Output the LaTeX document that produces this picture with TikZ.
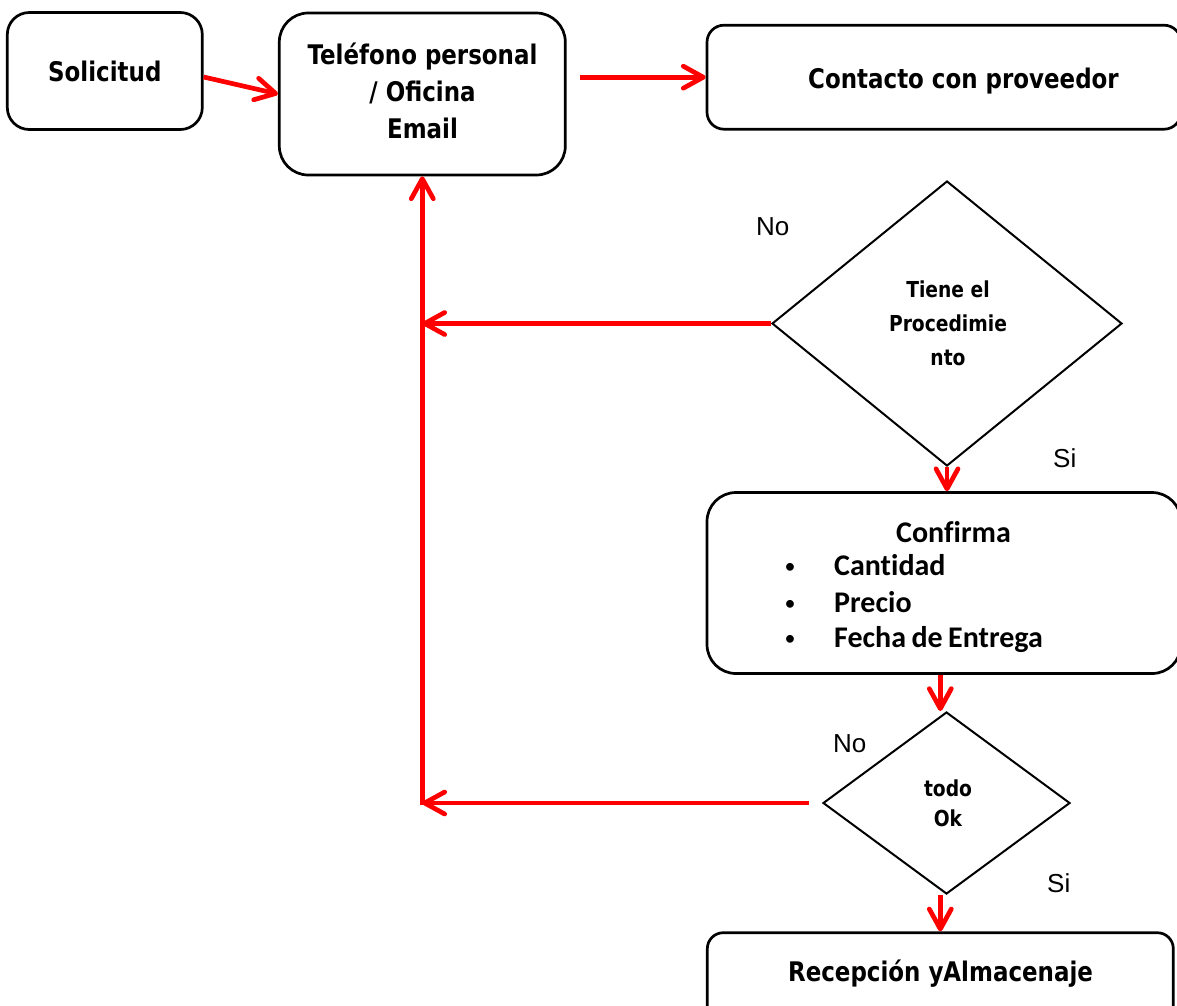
\documentclass[tikz,border=0pt]{standalone}
\usepackage{fontspec}
\usetikzlibrary{arrows.meta,shapes.geometric,calc}
\newfontfamily\boxfont{DejaVu Sans}[FakeStretch=0.85]
\newfontfamily\listfont{Carlito}[Ligatures=NoCommon,WordSpace=0.8]
\newfontfamily\tagfont{Liberation Sans}
\definecolor{flow}{RGB}{255,0,0}

\begin{document}
\begin{tikzpicture}[x=1pt,y=-1pt,
  box/.style={draw=black,line width=2.7pt,rounded corners=#1,inner sep=0pt},
  box/.default=20pt,
  dia/.style={diamond,draw=black,line width=2pt,inner sep=0pt},
  boxtext/.style={font=\boxfont\bfseries\fontsize{27}{37}\selectfont,align=center,inner sep=0pt},
  diatext/.style={font=\boxfont\bfseries\fontsize{22}{34}\selectfont,align=center,inner sep=0pt},
  listtext/.style={font=\listfont\bfseries\fontsize{30}{36}\selectfont,inner sep=0pt},
  dot/.style={font=\listfont\fontsize{22}{26}\selectfont,inner sep=0pt},
  tag/.style={font=\tagfont\fontsize{26}{30}\selectfont,inner sep=0pt,anchor=base west},
  link/.style={draw=flow,line width=4.7pt,-{Straight Barb[length=20pt,width=22pt,round]}}
]
\useasboundingbox (0,0) rectangle (1177,1005);
\clip (0,0) rectangle (1177,1005);

% process boxes
\node[box=22pt,minimum width=195pt,minimum height=117pt,boxtext] (sol) at (104.8,71) {Solicitud};
\node[box=29pt,minimum width=286pt,minimum height=162pt] (tel) at (422.3,94) {};
\node[box=17pt,minimum width=474pt,minimum height=104pt] (con) at (944,77.2) {};
\node[box=29pt,minimum width=474pt,minimum height=181pt] (conf) at (944,583) {};
\node[box=16pt,minimum width=466pt,minimum height=110pt] (rec) at (940.3,987.7) {};

% decisions
\node[dia,minimum width=350pt,minimum height=285pt] (d1) at (947,323.5) {};
\node[dia,minimum width=247pt,minimum height=182pt] (d2) at (946.5,803) {};

% box texts
\node[boxtext] (telT) at (422.5,91.3) {Teléfono personal\\/ Oficina\\Email};
\node[boxtext,anchor=base] (conT) at (963.5,88.3) {Contacto con proveedor};
\node[boxtext,anchor=base] (recT) at (940.5,981.7) {Recepción yAlmacenaje};
\node[diatext] (d1T) at (948,323) {Tiene el\\Procedimie\\nto};
\node[diatext,font=\boxfont\bfseries\fontsize{22}{30}\selectfont] (d2T) at (948,803.5) {todo\\Ok};

% confirmation list
\node[listtext,anchor=base] (cfT) at (953.5,542) {Confirma};
\node[dot,anchor=base] (b1) at (790,573) {\textbullet};
\node[dot,anchor=base] (b2) at (790,610) {\textbullet};
\node[dot,anchor=base] (b3) at (790,645) {\textbullet};
\node[listtext,anchor=base west] (i1) at (834,575) {Cantidad};
\node[listtext,anchor=base west] (i2) at (834,612) {Precio};
\node[listtext,anchor=base west] (i3) at (834,647) {Fecha de Entrega};

% branch labels
\node[tag] (no1) at (756,235) {No};
\node[tag] (si1) at (1053,467) {Si};
\node[tag] (no2) at (833,752) {No};
\node[tag] (si2) at (1047,892) {Si};

% connectors
\coordinate (back1) at (tel.south |- d1.west);
\coordinate (back2) at (tel.south |- d2.west);
\draw[link] ([yshift=-6pt]sol.east) -- (tel.west);
\draw[link] ($(tel.east |- con.west)+(13,0)$) -- (con.west);
\draw[link] (d1.south) -- (d1.south |- conf.north);
\draw[link] (rec.north |- conf.south) -- (rec.north |- d2.north);
\draw[link] (rec.north |- d2.south) -- (rec.north);
\draw[link] (d1.west) -- (back1);
\draw[link] ($(d2.west)+(-13,0)$) -- (back2);
\draw[link,shorten <=-2.3pt] (back2) -- (tel.south);
\end{tikzpicture}
\end{document}
